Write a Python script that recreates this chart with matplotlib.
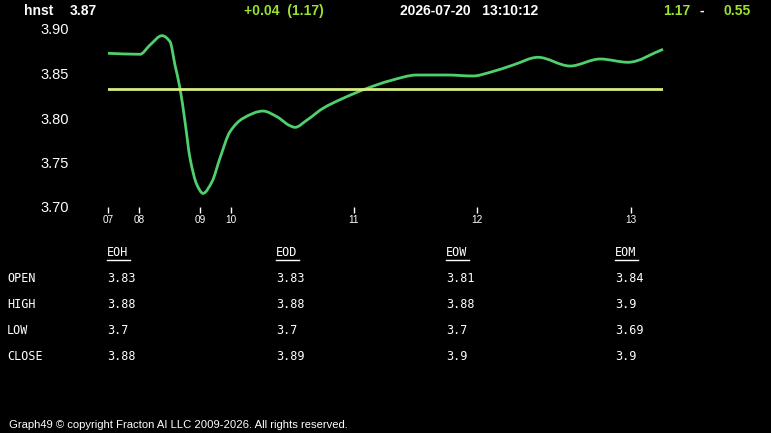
import numpy as np
import matplotlib.pyplot as plt
from matplotlib.lines import Line2D
from matplotlib.path import Path
from matplotlib.patches import PathPatch

W, H = 771, 433

# price series (x = offset along the session, value)
x_pos = [0, 32, 42, 54, 62, 67, 72, 77, 82, 89, 95, 104, 112, 122, 135, 155, 169,
         182, 187, 199, 215, 235, 259, 282, 309, 339, 365, 382, 405, 430, 462, 492,
         520, 555]
price = [3.8727, 3.8716, 3.882, 3.8925, 3.8857, 3.8595, 3.8333, 3.7958, 3.755,
         3.7247, 3.7153, 3.7284, 3.755, 3.7846, 3.7996, 3.8078, 3.8014, 3.7913,
         3.7895, 3.7977, 3.8109, 3.8221, 3.8333, 3.8419, 3.8483, 3.8483, 3.8472,
         3.8513, 3.8595, 3.8682, 3.8584, 3.8663, 3.8626, 3.8772]
ref_level = 3.8326

tick_pos = [0, 31, 92, 123, 246, 369, 523]
tick_lab = ["07", "08", "09", "10", "11", "12", "13"]
y_ticks = [3.70, 3.75, 3.80, 3.85, 3.90]

cols = ["EOH", "EOD", "EOW", "EOM"]
rows = ["OPEN", "HIGH", "LOW", "CLOSE"]
eoh = ["3.83", "3.88", "3.7", "3.88"]
eod = ["3.83", "3.88", "3.7", "3.89"]
eow = ["3.81", "3.88", "3.7", "3.9"]
eom = ["3.84", "3.9", "3.69", "3.9"]

green = "#4fd06c"
yellow = "#d6ef7e"
hgreen = "#9be22e"


def px(x, y):
    return x / W, 1 - y / H


def smooth_path(xs, ys):
    # monotone (pchip-style) cubic through the points, as bezier segments
    x = np.asarray(xs, float)
    y = np.asarray(ys, float)
    h = np.diff(x)
    s = np.diff(y) / h
    m = np.zeros_like(y)
    m[0], m[-1] = s[0], s[-1]
    for i in range(1, len(x) - 1):
        if s[i - 1] * s[i] > 0:
            w1 = 2 * h[i] + h[i - 1]
            w2 = h[i] + 2 * h[i - 1]
            m[i] = (w1 + w2) / (w1 / s[i - 1] + w2 / s[i])
    verts = [(x[0], y[0])]
    codes = [Path.MOVETO]
    for i in range(len(x) - 1):
        d = h[i] / 3
        verts += [(x[i] + d, y[i] + d * m[i]),
                  (x[i + 1] - d, y[i + 1] - d * m[i + 1]),
                  (x[i + 1], y[i + 1])]
        codes += [Path.CURVE4] * 3
    return Path(verts, codes)


fig = plt.figure(figsize=(W / 100, H / 100), dpi=100, facecolor="black")
ax = fig.add_axes([108 / W, 1 - 207 / H, (663 - 108) / W, (207 - 29) / H])
ax.set_facecolor("black")
ax.add_patch(PathPatch(smooth_path(x_pos, price), facecolor="none",
                       edgecolor=green, lw=2, clip_on=False))
ax.plot([x_pos[0], x_pos[-1]], [ref_level, ref_level], color=yellow, lw=2)
ax.set_xlim(0, 555)
ax.set_ylim(3.70, 3.90)
for s in ax.spines.values():
    s.set_visible(False)
ax.set_yticks(y_ticks)
ax.set_yticklabels(["%.2f" % v for v in y_ticks])
ax.tick_params(axis="y", length=0, pad=28, colors="white", labelsize=10.5)
ax.set_xticks(tick_pos)
ax.set_xticklabels(tick_lab)
ax.tick_params(axis="x", length=4, width=1, pad=2, colors="white",
               labelsize=7.2, direction="out")
for t in ax.get_xticklabels() + ax.get_yticklabels():
    t.set_fontfamily("Liberation Sans")

# header
hf = dict(family="Liberation Sans", fontweight="bold", fontsize=10, va="center")
fig.text(*px(24, 11), "hnst", color="white", **hf)
fig.text(*px(70, 11), "3.87", color="white", **hf)
fig.text(*px(244, 11), "+0.04  (1.17)", color=hgreen, **hf)
fig.text(*px(400, 11), "2026-07-20   13:10:12", color="white", **hf)
fig.text(*px(663, 11), "1.17", color=hgreen, **hf)
fig.text(*px(700, 11), "-", color="white", **hf)
fig.text(*px(724, 11), "0.55", color=hgreen, **hf)

# table
tf = dict(family="DejaVu Sans Mono", fontsize=8.5, va="center", color="white")
col_x = [107, 276, 446, 615]
row_y = [279, 304, 330, 356]
for c, cx, vals in zip(cols, col_x, [eoh, eod, eow, eom]):
    fig.text(*px(cx, 252), c, **tf)
    x0, y0 = px(cx, 260)
    x1, _ = px(cx + 23, 260)
    fig.add_artist(Line2D([x0, x1], [y0, y0], color="white", lw=1))
    for ry, v in zip(row_y, vals):
        fig.text(*px(cx, ry), v, **tf)
for ry, r in zip(row_y, rows):
    fig.text(*px(7, ry), r, **tf)

fig.text(*px(9, 425), "Graph49 \u00a9 copyright Fracton AI LLC 2009-2026. All rights reserved.",
         family="Liberation Sans", fontsize=8.1, color="white", va="center")

fig.savefig("out.png", dpi=100, facecolor="black")
